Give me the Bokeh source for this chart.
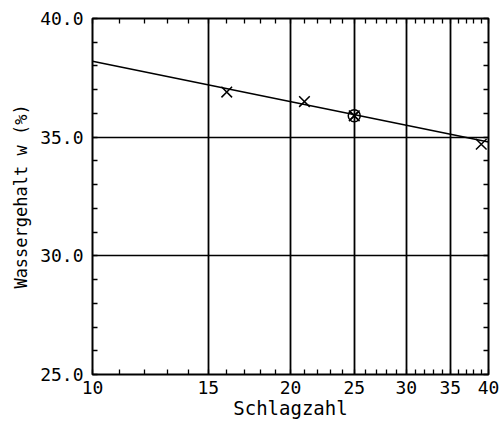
from bokeh.plotting import figure
from bokeh.models import Range1d, FixedTicker, PrintfTickFormatter, LinearAxis, LogAxis
from bokeh.embed import file_html
from bokeh.resources import INLINE

# Data
schlagzahl = [16, 21, 25, 39]
wassergehalt = [36.9, 36.5, 35.9, 34.7]
fit_x = [10, 40]
fit_y = [38.2, 34.8]
fliess_x = [25]
fliess_y = [35.9]

x_ticks = [10, 15, 20, 25, 30, 35, 40]
x_minor = list(range(10, 41))
y_ticks = [25, 30, 35, 40]
y_minor = list(range(25, 41))

FONT = "DejaVu Sans Mono"

p = figure(width=500, height=421, x_axis_type="log", output_backend="svg",
           toolbar_location=None,
           x_range=Range1d(10, 40), y_range=Range1d(25, 40),
           min_border_left=92, min_border_right=12, min_border_top=18, min_border_bottom=45)
p.outline_line_color = "black"
p.outline_line_width = 2
p.background_fill_color = "white"
p.border_fill_color = "white"

p.line(fit_x, fit_y, line_color="black", line_width=1.6)
p.scatter(schlagzahl, wassergehalt, marker="x", size=15, line_color="black", line_width=1.5)
p.scatter(fliess_x, fliess_y, marker="circle_x", size=12, line_color="black", line_width=1.5,
          fill_color=None)

def style_axis(ax, labels=True):
    ax.axis_line_color = None
    ax.major_tick_in = 0
    ax.major_tick_out = 0
    ax.minor_tick_in = 5
    ax.minor_tick_out = 0
    ax.minor_tick_line_color = "black"
    ax.minor_tick_line_width = 1.3
    ax.major_label_text_font = FONT
    ax.major_label_text_font_size = "18px"
    ax.major_label_text_color = "black" if labels else None
    ax.axis_label_text_font = FONT
    ax.axis_label_text_font_style = "normal"
    ax.axis_label_text_font_size = "17px"
    ax.axis_label_text_color = "black"

xt = FixedTicker(ticks=x_ticks, minor_ticks=x_minor)
yt = FixedTicker(ticks=y_ticks, minor_ticks=y_minor)

p.xaxis.ticker = xt
p.yaxis.ticker = yt
p.yaxis.formatter = PrintfTickFormatter(format="%.1f")
p.xaxis.axis_label = "Schlagzahl"
p.yaxis.axis_label = "Wassergehalt w (%)"
style_axis(p.xaxis[0])
style_axis(p.yaxis[0])
p.xaxis.axis_label_text_font_size = "19px"
p.xaxis.major_label_standoff = 6
p.yaxis.major_label_standoff = 9
p.xaxis.axis_label_standoff = 0
p.yaxis.axis_label_standoff = 6

top = LogAxis(ticker=FixedTicker(ticks=x_ticks, minor_ticks=x_minor))
style_axis(top, labels=False)
p.add_layout(top, "above")
right = LinearAxis(ticker=FixedTicker(ticks=y_ticks, minor_ticks=y_minor))
style_axis(right, labels=False)
p.add_layout(right, "right")

p.xgrid.ticker = FixedTicker(ticks=[15, 20, 25, 30, 35])
p.ygrid.ticker = FixedTicker(ticks=[30, 35])
p.xgrid.grid_line_color = "black"
p.xgrid.grid_line_width = 1.8
p.ygrid.grid_line_color = "black"
p.ygrid.grid_line_width = 1.5

open("out.html", "w").write(file_html(p, INLINE))
